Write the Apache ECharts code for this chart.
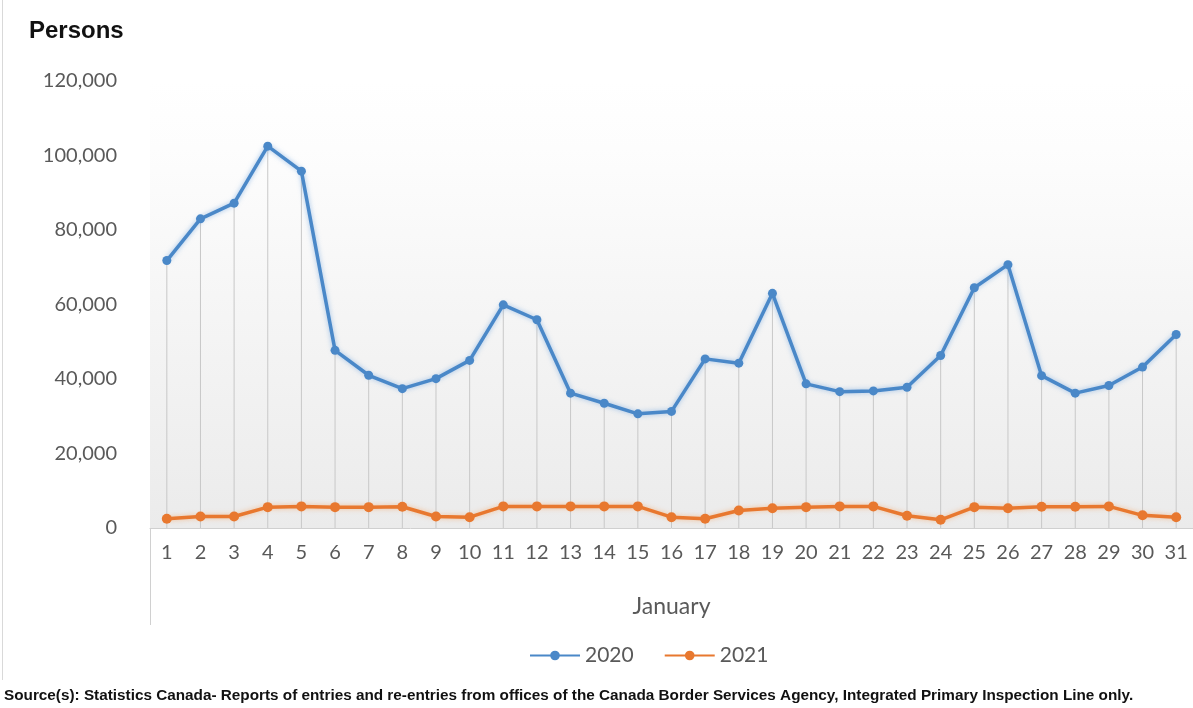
<!DOCTYPE html>
<html>
<head>
<meta charset="utf-8">
<script src="https://cdn.jsdelivr.net/npm/echarts@6.0.0/dist/echarts.min.js"></script>
<style>
html,body{margin:0;padding:0;background:#fff;}
#chart{width:1193px;height:708px;}
</style>
</head>
<body>
<div id="chart"></div>
<script>
const days = ['1','2','3','4','5','6','7','8','9','10','11','12','13','14','15','16','17','18','19','20','21','22','23','24','25','26','27','28','29','30','31'];
const series2020 = [71800, 83000, 87200, 102500, 95800, 47700, 41000, 37400, 40100, 45000, 59900, 55900, 36200, 33500, 30650, 31300, 45400, 44250, 63000, 38700, 36600, 36800, 37800, 46300, 64500, 70700, 40900, 36200, 38250, 43200, 51950];
const series2021 = [2500, 3100, 3100, 5600, 5800, 5600, 5600, 5700, 3100, 2900, 5800, 5800, 5800, 5800, 5800, 2900, 2500, 4700, 5300, 5600, 5800, 5800, 3300, 2200, 5600, 5300, 5700, 5700, 5800, 3400, 2900];
const yTicks = {min: 0, max: 120000, interval: 20000};
const seriesNames = ['2020', '2021'];
const axisTitle = 'Persons';
const xName = 'January';
const sourceText = 'Source(s): Statistics Canada- Reports of entries and re-entries from offices of the Canada Border Services Agency, Integrated Primary Inspection Line only.';

const dropLines = series2020.map((v, i) => Math.max(v, series2021[i]));
const FONT = 'Lato, "Liberation Sans", sans-serif';

const chart = echarts.init(document.getElementById('chart'));
chart.setOption({
  animation: false,
  backgroundColor: '#ffffff',
  textStyle: {fontFamily: FONT},
  title: {
    text: axisTitle,
    left: 24, top: 14,
    textStyle: {fontFamily: '"Liberation Sans", sans-serif', fontWeight: 'bold', fontSize: 24, color: '#111111'}
  },
  legend: {
    data: seriesNames,
    bottom: 37,
    left: 524,
    itemWidth: 50,
    itemHeight: 12,
    itemGap: 30,
    textStyle: {fontFamily: FONT, fontSize: 21, color: '#595959'}
  },
  graphic: [
    {type: 'text', left: 4, top: 688, style: {text: sourceText, font: 'bold 15.3px "Liberation Sans", sans-serif', fill: '#111111'}},
    {type: 'line', shape: {x1: 2.5, y1: 0, x2: 2.5, y2: 680}, style: {stroke: '#d9d9d9', lineWidth: 1}}
  ],
  grid: {
    left: 150, top: 81, width: 1048, height: 447,
    show: true, borderWidth: 0,
    backgroundColor: {type: 'linear', x: 0, y: 0, x2: 0, y2: 1, colorStops: [
      {offset: 0, color: '#ffffff'}, {offset: 0.15, color: '#fdfdfd'}, {offset: 1, color: '#ebebeb'}
    ]}
  },
  xAxis: {
    type: 'category',
    data: days,
    boundaryGap: true,
    name: xName,
    nameLocation: 'middle',
    nameGap: 67,
    nameTextStyle: {fontFamily: FONT, fontSize: 23, color: '#595959'},
    axisLine: {lineStyle: {color: '#d0d0d0', width: 1}},
    axisTick: {show: true, length: 97, interval: (i) => i === 0, lineStyle: {color: '#d0d0d0'}},
    axisLabel: {fontFamily: FONT, fontSize: 20, color: '#595959', margin: 15, interval: 0},
    splitLine: {show: false}
  },
  yAxis: {
    type: 'value',
    min: yTicks.min, max: yTicks.max, interval: yTicks.interval,
    axisLine: {show: false},
    axisTick: {show: false},
    splitLine: {show: false},
    axisLabel: {
      fontFamily: FONT, fontSize: 20, color: '#595959', margin: 33,
      formatter: (v) => v.toLocaleString('en-US')
    }
  },
  series: [
    {
      name: 'drop', type: 'bar', data: dropLines, barWidth: 1, z: 1,
      itemStyle: {color: '#c8c8c8'}, silent: true, legendHoverLink: false
    },
    {
      name: seriesNames[0], type: 'line', data: series2020, z: 3,
      symbol: 'circle', symbolSize: 9,
      lineStyle: {color: '#4a88c8', width: 3.5, shadowColor: 'rgba(120,170,225,0.7)', shadowBlur: 5},
      itemStyle: {color: '#4a88c8'}
    },
    {
      name: seriesNames[1], type: 'line', data: series2021, z: 3,
      symbol: 'circle', symbolSize: 10,
      lineStyle: {color: '#e8782f', width: 3.5, shadowColor: 'rgba(245,170,110,0.7)', shadowBlur: 5},
      itemStyle: {color: '#e8782f'}
    }
  ]
});
</script>
</body>
</html>
